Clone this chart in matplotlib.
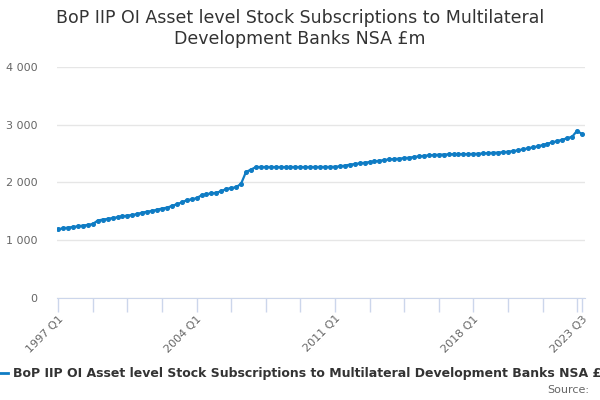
import numpy as np
import matplotlib.pyplot as plt
from matplotlib.ticker import FuncFormatter

# Quarterly stock, 1997 Q1 to 2023 Q3 (£m)
start_year = 1997
values = [
    1186, 1203, 1215, 1226, 1238, 1250, 1261, 1278, 1336, 1354,
    1365, 1382, 1394, 1411, 1423, 1434, 1451, 1475, 1490, 1505,
    1525, 1545, 1560, 1590, 1620, 1650, 1690, 1705, 1725, 1775,
    1795, 1808, 1820, 1845, 1885, 1900, 1915, 1975, 2180, 2220,
    2265, 2266, 2266, 2266, 2265, 2265, 2265, 2266, 2266, 2265,
    2265, 2266, 2266, 2267, 2267, 2268, 2270, 2277, 2290, 2306,
    2318, 2329, 2340, 2352, 2363, 2375, 2386, 2398, 2404, 2410,
    2420, 2427, 2440, 2450, 2460, 2468, 2474, 2479, 2482, 2485,
    2488, 2490, 2490, 2490, 2493, 2496, 2500, 2507, 2512, 2516,
    2522, 2531, 2542, 2554, 2571, 2589, 2606, 2623, 2646, 2670,
    2693, 2715, 2739, 2765, 2790, 2895, 2835,
]
quarters = [f"{start_year + i // 4} Q{i % 4 + 1}" for i in range(len(values))]
series_name = "BoP IIP OI Asset level Stock Subscriptions to Multilateral Development Banks NSA £m"
title = "BoP IIP OI Asset level Stock Subscriptions to Multilateral\nDevelopment Banks NSA £m"

x = np.arange(len(values))
line_color = "#0f7cc4"

fig = plt.figure(figsize=(6, 4), dpi=100)
ax = fig.add_axes([0.095, 0.256, 0.88, 0.5765])

ax.plot(x, values, color=line_color, linewidth=1.6, marker="o", markersize=2.6, zorder=3)

ax.set_ylim(0, 4000)
ax.set_xlim(-0.25, 106.6)
ax.set_yticks([0, 1000, 2000, 3000, 4000])
ax.yaxis.set_major_formatter(FuncFormatter(lambda v, p: f"{int(v):,}".replace(",", " ")))
ax.grid(axis="y", color="#e6e6e6", linewidth=1)
ax.set_axisbelow(True)

tick_pos = list(range(0, len(values), 7)) + [len(values) - 1]
ax.set_xticks(tick_pos)
label_pos = [0, 28, 56, 84, len(values) - 1]
ax.set_xticklabels([quarters[i] if i in label_pos else "" for i in tick_pos],
                   rotation=45, ha="right", rotation_mode="anchor")

for s in ["top", "right", "left"]:
    ax.spines[s].set_visible(False)
ax.spines["bottom"].set_color("#ccd6eb")
ax.tick_params(axis="x", colors="#ccd6eb", length=10, width=1, labelcolor="#666666",
               labelsize=8, pad=1.5)
ax.tick_params(axis="y", length=0, labelcolor="#666666", labelsize=8, pad=14)

fig.text(0.5, 0.978, title, ha="center", va="top", fontsize=12.5, color="#333333",
         linespacing=1.2)

# legend
fig.lines.append(plt.Line2D([0.0, 0.014], [0.0675, 0.0675], transform=fig.transFigure,
                            color=line_color, linewidth=2))
fig.text(0.022, 0.0675, series_name, ha="left", va="center", fontsize=9,
         fontweight="bold", color="#333333")
fig.text(0.982, 0.025, "Source:", ha="right", va="center", fontsize=8, color="#666666")

fig.savefig("out.png", dpi=100)
